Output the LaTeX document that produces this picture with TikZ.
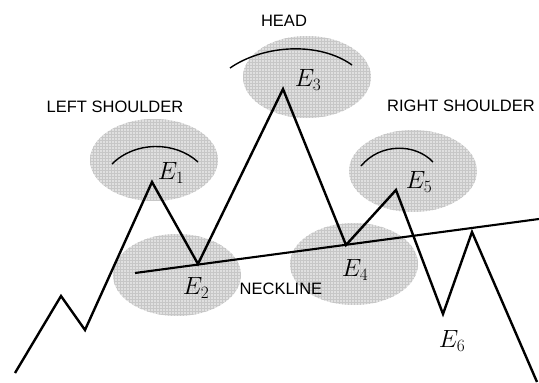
\documentclass[tikz,border=0pt]{standalone}
\usepackage{fontspec}
\setmainfont{Liberation Sans}
\usetikzlibrary{shapes.geometric,patterns}
\begin{document}
\begin{tikzpicture}[x=1pt,y=-1pt,
  zone/.style={ellipse,fill=black!12,draw=none,minimum width=128pt,minimum height=82pt,inner sep=0pt,
    postaction={pattern=grid,pattern color=black!22}},
  price/.style={line width=2.4pt,line join=miter},
  neck/.style={line width=2.1pt},
  bow/.style={line width=1.4pt},
  lab/.style={font=\fontsize{16.5}{18}\selectfont,inner sep=0pt},
  elab/.style={font=\fontsize{25}{27}\selectfont,inner sep=0pt}]
\useasboundingbox (0,0) rectangle (539,383);
% shaded zones
\node[zone] (z1) at (154,160) {};
\node[zone] (z3) at (307,77) {};
\node[zone] (z5) at (413,171) {};
\node[zone] (z2) at (177,275) {};
\node[zone] (z4) at (354,264) {};
% arcs
\draw[bow] (112,164) .. controls (135,141) and (175,141) .. (198,162);
\draw[bow] (230,68) .. controls (265,44) and (320,42) .. (352,65);
\draw[bow] (361,166) .. controls (380,143) and (415,143) .. (433,162);
% price path
\coordinate (p0) at (15,373);
\coordinate (p1) at (61,296);
\coordinate (p2) at (85,330);
\coordinate (e1) at (152,182);
\coordinate (e2) at (198,264);
\coordinate (e3) at (283,89);
\coordinate (e4) at (346,245);
\coordinate (e5) at (396,190);
\coordinate (e6) at (443,314);
\coordinate (p9) at (472,232);
\coordinate (p10) at (537,382);
\draw[price] (p0) -- (p1) -- (p2) -- (e1) -- (e2) -- (e3) -- (e4) -- (e5) -- (e6) -- (p9) -- (p10);
% neckline
\coordinate (n0) at (135,273);
\coordinate (n1) at (539,219);
\draw[neck] (n0) -- (n1);
% labels
\node[lab] (ls) at (115,107) {LEFT SHOULDER};
\node[lab] (hd) at (284,21) {HEAD};
\node[lab] (rs) at (461,106) {RIGHT SHOULDER};
\node[lab] (nl) at (281,289) {NECKLINE};
\node[elab] (l1) at (171,173) {$E_1$};
\node[elab] (l2) at (196,288) {$E_2$};
\node[elab] (l3) at (308,80) {$E_3$};
\node[elab] (l4) at (355,270) {$E_4$};
\node[elab] (l5) at (419,182) {$E_5$};
\node[elab] (l6) at (452,341) {$E_6$};
\end{tikzpicture}
\end{document}
